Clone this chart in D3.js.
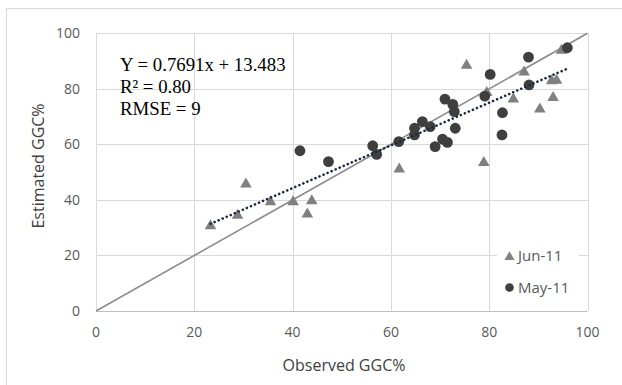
<!DOCTYPE html>
<html>
<head>
<meta charset="utf-8">
<style>
  body { margin: 0; background: #fff; }
  text { font-family: "Open Sans", sans-serif; fill: #595959; }
</style>
</head>
<body>
<div id="viz_area"></div>

<script src="https://d3js.org/d3.v7.min.js"></script>

<script>
    // data
    var junObserved  = [23.3, 28.8, 30.5, 35.5, 40.1, 43.0, 43.9, 61.7, 75.4, 78.9, 79.5, 84.9, 87.1, 90.3, 93.0, 92.7, 93.7, 94.7];
    var junEstimated = [31.0, 34.8, 46.0, 39.6, 39.6, 35.2, 40.0, 51.4, 88.8, 53.8, 79.0, 76.6, 86.4, 73.0, 77.2, 83.2, 83.4, 94.2];

    var mayObserved  = [41.5, 47.3, 56.3, 57.1, 61.6, 64.8, 64.8, 66.4, 68.0, 69.0, 70.5, 71.5, 71.0, 72.6, 72.9, 73.1, 79.1, 80.2, 82.7, 82.6, 88.0, 88.1, 95.9];
    var mayEstimated = [57.7, 53.8, 59.5, 56.4, 61.0, 65.8, 63.4, 68.2, 66.4, 59.2, 61.9, 60.7, 76.3, 74.4, 71.8, 65.8, 77.4, 85.2, 71.4, 63.4, 91.4, 81.4, 94.8];

    var ticks = [0, 20, 40, 60, 80, 100];
    var slope = 0.7691, intercept = 13.483;
    var statLines = ["Y = 0.7691x + 13.483", "R² = 0.80", "RMSE = 9"];
    var seriesNames = ["Jun-11", "May-11"];

    var width = 622, height = 385;

    var svg = d3.select("#viz_area")
        .append("svg")
        .attr("width", width)
        .attr("height", height);

    // chart border (runs off the right/bottom of the crop)
    svg.append("rect")
        .attr("x", 6.5).attr("y", 8.5)
        .attr("width", 640).attr("height", 400)
        .style("fill", "none").style("stroke", "#d9d9d9");

    var x = d3.scaleLinear().domain([0, 100]).range([96, 587.5]);
    var y = d3.scaleLinear().domain([0, 100]).range([311, 33.3]);

    // grid
    svg.append("g").selectAll("line")
        .data(ticks).enter().append("line")
        .attr("x1", x(0)).attr("x2", x(100))
        .attr("y1", d => Math.round(y(d)) + 0.5).attr("y2", d => Math.round(y(d)) + 0.5)
        .style("stroke", d => d == 0 ? "#bfbfbf" : "#d9d9d9");
    svg.append("g").selectAll("line")
        .data(ticks).enter().append("line")
        .attr("y1", y(0)).attr("y2", y(100))
        .attr("x1", d => Math.round(x(d)) + 0.5).attr("x2", d => Math.round(x(d)) + 0.5)
        .style("stroke", "#d9d9d9");

    // tick labels
    svg.append("g").selectAll("text")
        .data(ticks).enter().append("text")
        .attr("x", 80).attr("y", d => y(d) + 5)
        .attr("text-anchor", "end")
        .style("font-size", "14px")
        .text(d => d);
    svg.append("g").selectAll("text")
        .data(ticks).enter().append("text")
        .attr("x", d => x(d)).attr("y", 337)
        .attr("text-anchor", "middle")
        .style("font-size", "14px")
        .text(d => d);

    // axis titles
    svg.append("text")
        .attr("x", 344).attr("y", 371)
        .attr("text-anchor", "middle")
        .style("font-size", "16px").style("fill", "#404040")
        .text("Observed GGC%");
    svg.append("text")
        .attr("transform", "translate(44,166) rotate(-90)")
        .attr("text-anchor", "middle")
        .style("font-size", "16px").style("fill", "#404040")
        .text("Estimated GGC%");

    // 1:1 line
    svg.append("line")
        .attr("x1", x(0)).attr("y1", y(0))
        .attr("x2", x(100)).attr("y2", y(100))
        .style("stroke", "#8c8c8c").style("stroke-width", 1.6);

    // points
    var jun = junObserved.map((d, i) => [d, junEstimated[i]]);
    var may = mayObserved.map((d, i) => [d, mayEstimated[i]]);

    var tri = d3.symbol().type(d3.symbolTriangle).size(58);
    svg.append("g").selectAll("path")
        .data(jun).enter().append("path")
        .attr("d", tri)
        .attr("transform", d => "translate(" + x(d[0]) + "," + (y(d[1]) + 1) + ")")
        .style("fill", "#808080");

    svg.append("g").selectAll("circle")
        .data(may).enter().append("circle")
        .attr("cx", d => x(d[0])).attr("cy", d => y(d[1]))
        .attr("r", 5.4)
        .style("fill", "#3f3f3f");

    // trend line over the pooled data
    var allX = junObserved.concat(mayObserved);
    var x0 = d3.min(allX), x1 = d3.max(allX);
    svg.append("line")
        .attr("x1", x(x0)).attr("y1", y(slope * x0 + intercept))
        .attr("x2", x(x1)).attr("y2", y(slope * x1 + intercept))
        .style("stroke", "#1c2a3e").style("stroke-width", 2.6)
        .style("stroke-linecap", "round")
        .style("stroke-dasharray", "0.1 4.3");

    // equation text
    svg.append("g").selectAll("text")
        .data(statLines).enter().append("text")
        .attr("x", 120).attr("y", (d, i) => 70.5 + i * 22)
        .style("font-family", "'Liberation Serif', 'Times New Roman', serif")
        .style("font-size", "18.8px").style("fill", "#000")
        .text(d => d);

    // legend
    svg.append("rect")
        .attr("x", 497).attr("y", 242).attr("width", 82).attr("height", 60)
        .style("fill", "#fff");
    var leg = svg.append("g");
    leg.append("path")
        .attr("d", d3.symbol().type(d3.symbolTriangle).size(44))
        .attr("transform", "translate(509.5,257)")
        .style("fill", "#808080");
    leg.append("circle")
        .attr("cx", 509.5).attr("cy", 287.5).attr("r", 4.3)
        .style("fill", "#3f3f3f");
    leg.selectAll("text")
        .data(seriesNames).enter().append("text")
        .attr("x", 518).attr("y", (d, i) => 261 + i * 31.5)
        .style("font-family", "'Open Sans', sans-serif")
        .style("font-size", "15px")
        .text(d => d);
</script>
</body>
</html>
